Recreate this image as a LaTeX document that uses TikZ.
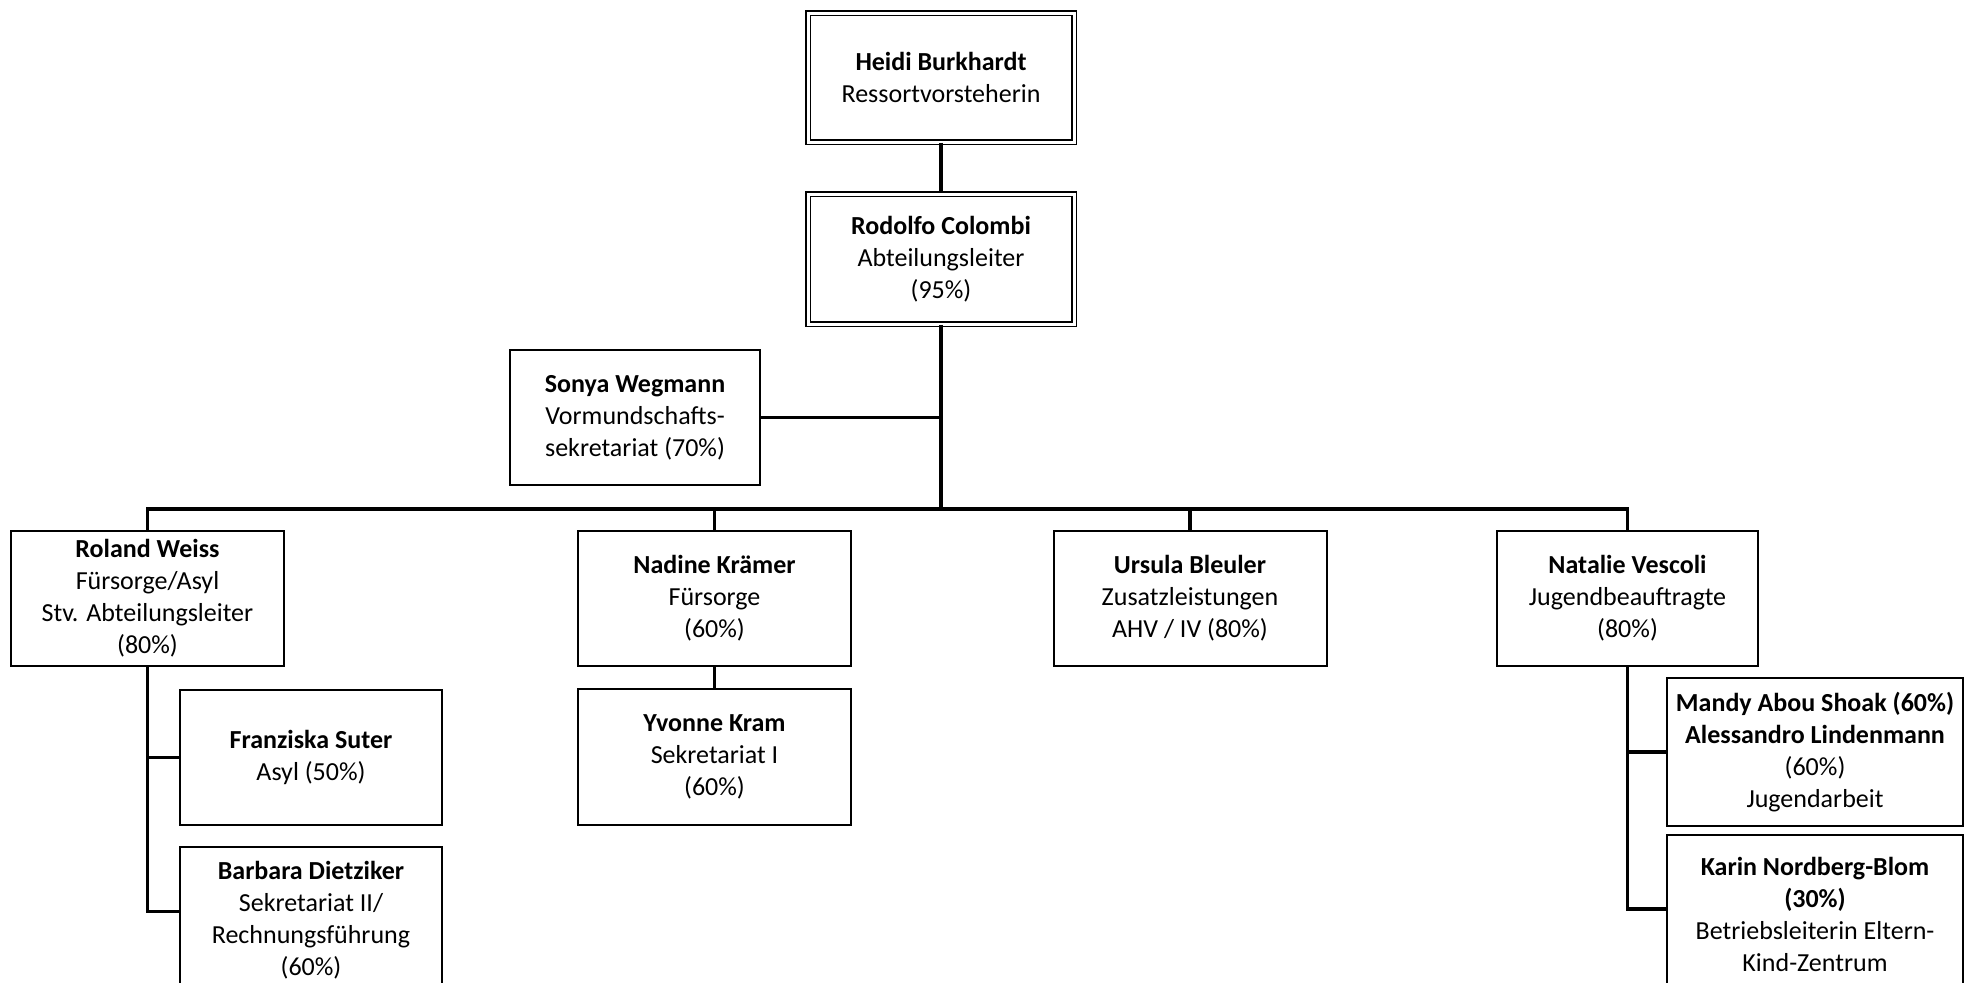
\documentclass[tikz,border=0pt]{standalone}
\usepackage{fontspec}
\setmainfont{Carlito}
\usepackage{xcolor}
\usepackage{tikz}
\usetikzlibrary{calc, positioning}

\begin{document}
\begin{tikzpicture}[node distance=80pt, font=\fontsize{13}{16}\selectfont]
    \tikzstyle{chief} = [rectangle, draw=black, double, double distance=1.5pt, line width=0.8pt, align=center, minimum width=133pt, inner sep=2pt]
    \tikzstyle{staff} = [rectangle, draw=black, line width=1pt, align=center, minimum width=136.5pt, minimum height=67.5pt, inner sep=2pt]
    \tikzstyle{link} = [line width=1.6pt]
    \tikzstyle{side} = [line width=1.1pt]

    \useasboundingbox (0,0) rectangle (989.5pt,-491pt);

    \node [chief, minimum height=64.5pt] (heidi) at (470.5pt,-38.75pt) {\textbf{Heidi Burkhardt}\\Ressortvorsteherin};
    \node [chief, minimum height=65pt, below of=heidi, node distance=90.75pt] (rodolfo) {\textbf{Rodolfo Colombi}\\Abteilungsleiter\\(95\%)};
    \node [staff, minimum width=125pt, below of=rodolfo, node distance=79.25pt, xshift=-153pt] (sonya) {\textbf{Sonya Wegmann}\\Vormundschafts-\\sekretariat (70\%)};

    % second row
    \node [staff, below of=rodolfo, node distance=169.75pt, xshift=-396.75pt] (roland) {\textbf{Roland Weiss}\\Fürsorge/Asyl\\Stv. Abteilungsleiter\\(80\%)};
    \node [staff, below of=rodolfo, node distance=169.75pt, xshift=-113.25pt] (nadine) {\textbf{Nadine Krämer}\\Fürsorge\\(60\%)};
    \node [staff, below of=rodolfo, node distance=169.75pt, xshift=124.5pt] (ursula) {\textbf{Ursula Bleuler}\\Zusatzleistungen\\AHV / IV (80\%)};
    \node [staff, minimum width=130.5pt, below of=rodolfo, node distance=169.75pt, xshift=343.25pt] (natalie) {\textbf{Natalie Vescoli}\\Jugendbeauftragte\\(80\%)};

    % third row (bottom boxes run past the page edge)
    \node [staff, minimum height=68pt, below of=nadine, node distance=79.25pt] (yvonne) {\textbf{Yvonne Kram}\\Sekretariat I\\(60\%)};
    \node [staff, minimum width=131pt, below of=roland, node distance=79.5pt, xshift=81.75pt] (franziska) {\textbf{Franziska Suter}\\Asyl (50\%)};
    \node [staff, minimum width=131pt, minimum height=73.5pt, below of=franziska, node distance=81.5pt] (barbara) {\textbf{Barbara Dietziker}\\Sekretariat II/\\Rechnungsführung\\(60\%)};
    \node [staff, minimum width=148pt, minimum height=74pt, below of=natalie, node distance=76.75pt, xshift=93.75pt] (mandy) {\textbf{Mandy Abou Shoak (60\%)}\\\textbf{Alessandro Lindenmann}\\(60\%)\\Jugendarbeit};
    \node [staff, minimum width=148pt, minimum height=79pt, below of=mandy, node distance=81pt] (karin) {\textbf{Karin Nordberg-Blom}\\\textbf{(30\%)}\\Betriebsleiterin Eltern-\\Kind-Zentrum};

    \coordinate [below of=rodolfo, node distance=125pt] (hub);
    \coordinate [below of=franziska, node distance=77pt] (barbaraarm);
    \coordinate [below of=mandy, node distance=78.5pt] (karinarm);

    % trunk and main bar
    \draw [link] (heidi.south) -- (rodolfo.north);
    \draw [link] (rodolfo.south) -- (hub);
    \draw [side] (sonya.east) -- (sonya.east -| hub);
    \draw [link] (roland.north) |- (hub) -| (natalie.north);
    \draw [link] (nadine.north) -- (nadine.north |- hub);
    \draw [link] (ursula.north) -- (ursula.north |- hub);

    % sub units
    \draw [link] (nadine.south) -- (yvonne.north);
    \draw [link] (roland.south) |- (franziska.west);
    \draw [link] (roland.south) |- (barbara.west |- barbaraarm);
    \draw [link] (natalie.south) |- (mandy.west);
    \draw [link] (natalie.south) |- (karin.west |- karinarm);
\end{tikzpicture}
\end{document}
